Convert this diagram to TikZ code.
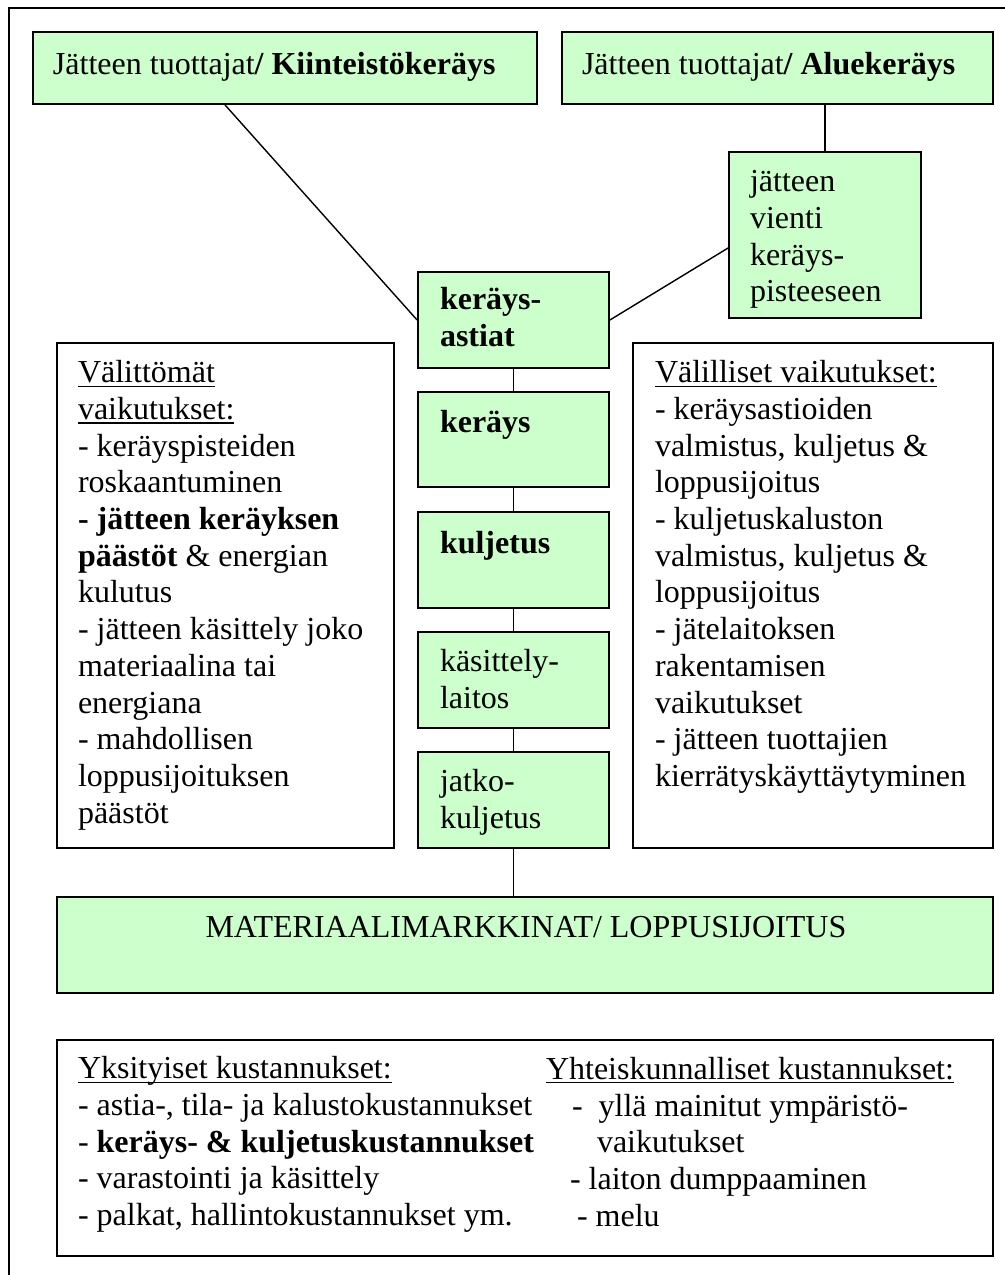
\documentclass[tikz,border=0pt]{standalone}
\usepackage{fontspec}
\setmainfont{Liberation Serif}
\definecolor{boxgreen}{HTML}{CCFFCC}
\newcommand\myul[1]{\leavevmode\setbox0\hbox{#1}\rlap{\rule[-2.2pt]{\wd0}{0.7pt}}\box0}
\begin{document}
\begin{tikzpicture}[x=0.5pt,y=-0.5pt,
  gbox/.style={draw=black,fill=boxgreen,line width=0.9pt,inner sep=0pt},
  wbox/.style={draw=black,fill=white,line width=0.9pt,inner sep=0pt},
  conn/.style={draw=black,line width=0.7pt},
  frame/.style={draw=black,line width=0.7pt},
  txt/.style={inner sep=0pt,outer sep=0pt,align=left,font=\fontsize{16}{18.35}\selectfont},
]
\useasboundingbox (0,0) rectangle (1005,1275);
\draw[frame] (1005,8) -- (9,8) -- (9,1275);

% green boxes
\node[gbox,minimum width=252pt,minimum height=36pt] (A) at (285,68) {};
\node[gbox,minimum width=215.5pt,minimum height=36pt] (B) at (777.5,68) {};
\node[gbox,minimum width=96pt,minimum height=83pt] (vienti) at (825,235) {};
\node[gbox,minimum width=95.5pt,minimum height=48pt] (astiat) at (513.5,320) {};
\node[gbox,minimum width=95.5pt,minimum height=47.5pt] (kerays) at (513.5,439.5) {};
\node[gbox,minimum width=95.5pt,minimum height=48pt] (kuljetus) at (513.5,560) {};
\node[gbox,minimum width=95.5pt,minimum height=48pt] (kasittely) at (513.5,680) {};
\node[gbox,minimum width=95.5pt,minimum height=48pt] (jatko) at (513.5,800) {};
\node[gbox,minimum width=468pt,minimum height=48pt] (mat) at (525,945) {};
% white boxes
\node[wbox,minimum width=168.5pt,minimum height=252.5pt] (left) at (225.5,595.5) {};
\node[wbox,minimum width=180pt,minimum height=252.5pt] (right) at (813,595.5) {};
\node[wbox,minimum width=468pt,minimum height=108pt] (costs) at (525,1148) {};

% connectors
\draw[conn] ([xshift=-30pt]A.south) -- (astiat.west);
\draw[conn] (astiat.east) -- ([yshift=-6.5pt]vienti.west);
\draw[conn] (vienti.north) -- (vienti.north |- B.south);
\draw[conn] (astiat.south) -- (kerays.north);
\draw[conn] (kerays.south) -- (kuljetus.north);
\draw[conn] (kuljetus.south) -- (kasittely.north);
\draw[conn] (kasittely.south) -- (jatko.north);
\draw[conn] (jatko.south) -- (jatko.south |- mat.north);

% texts
\node[txt,anchor=base west] (tA) at (53,74) {Jätteen tuottajat\textbf{/ Kiinteistökeräys}};
\node[txt,anchor=base west] (tB) at (582,74) {Jätteen tuottajat\textbf{/ Aluekeräys}};
\node[txt,anchor=north west] (tvienti) at (750,166) {\strut jätteen\\vienti\\keräys-\\pisteeseen};
\node[txt,anchor=north west] (tastiat) at (440,284) {\strut\textbf{keräys-}\\\textbf{astiat}};
\node[txt,anchor=base west] (tkerays) at (440,432) {\textbf{keräys}};
\node[txt,anchor=base west] (tkuljetus) at (440,553) {\textbf{kuljetus}};
\node[txt,anchor=north west] (tkasittely) at (440,646) {\strut käsittely-\\laitos};
\node[txt,anchor=north west] (tjatko) at (440,766) {\strut jatko-\\kuljetus};
\node[txt,anchor=base] (tmat) at (526,937) {MATERIAALIMARKKINAT/ LOPPUSIJOITUS};

\node[txt,anchor=north west] (tleft) at (78,357) {\strut\myul{Välittömät}\\
\myul{vaikutukset:}\\
- keräyspisteiden\\
roskaantuminen\\
\textbf{- jätteen keräyksen}\\
\textbf{päästöt} \& energian\\
kulutus\\
- jätteen käsittely joko\\
materiaalina tai\\
energiana\\
- mahdollisen\\
loppusijoituksen\\
päästöt};

\node[txt,anchor=north west] (tright) at (655,357) {\strut\myul{Välilliset vaikutukset:}\\
- keräysastioiden\\
valmistus, kuljetus \&\\
loppusijoitus\\
- kuljetuskaluston\\
valmistus, kuljetus \&\\
loppusijoitus\\
- jätelaitoksen\\
rakentamisen\\
vaikutukset\\
- jätteen tuottajien\\
kierrätyskäyttäytyminen};

\node[txt,anchor=north west] (tcostL) at (78,1053) {\strut\myul{Yksityiset kustannukset:}\\
- astia-, tila- ja kalustokustannukset\\
- \textbf{keräys- \& kuljetuskustannukset}\\
- varastointi ja käsittely\\
- palkat, hallintokustannukset ym.};

\node[txt,anchor=base west] (tcostR1) at (546,1079) {\myul{Yhteiskunnalliset kustannukset:}};
\node[txt,anchor=base west] (tcostR2) at (572,1116) {-\ \ yllä mainitut ympäristö-};
\node[txt,anchor=base west] (tcostR3) at (597,1152) {vaikutukset};
\node[txt,anchor=base west] (tcostR4) at (570,1189) {- laiton dumppaaminen};
\node[txt,anchor=base west] (tcostR5) at (577,1226) {- melu};
\end{tikzpicture}
\end{document}
